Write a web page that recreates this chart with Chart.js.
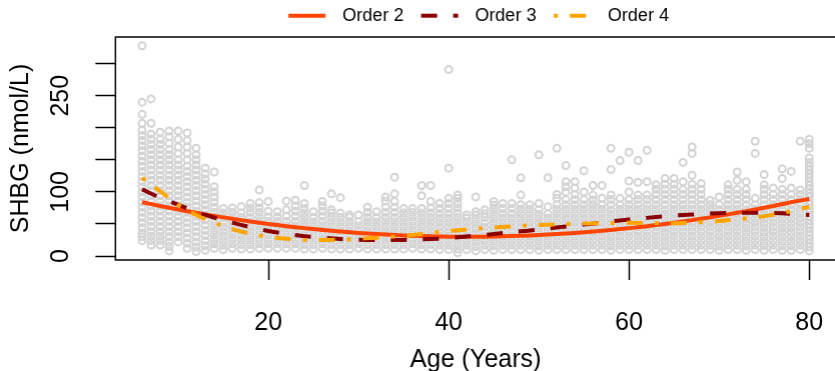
<!DOCTYPE html>
<html>
<head>
<meta charset="utf-8">
<script src="https://cdn.jsdelivr.net/npm/chart.js@4.4.0/dist/chart.umd.min.js"></script>
<style>
  html, body { margin: 0; padding: 0; overflow: hidden; background: #fff; }
  #wrap { width: 850.7px; height: 371px; }
</style>
</head>
<body>
<div id="wrap"><canvas id="shbgChart"></canvas></div>
<script>
// one column of SHBG readings per year of age
var ages = [6, 7, 8, 9, 10, 11, 12, 13, 14, 15, 16, 17, 18, 19, 20, 21, 22, 23, 24, 25,
    26, 27, 28, 29, 30, 31, 32, 33, 34, 35, 36, 37, 38, 39, 40, 41, 42, 43, 44, 45,
    46, 47, 48, 49, 50, 51, 52, 53, 54, 55, 56, 57, 58, 59, 60, 61, 62, 63, 64, 65,
    66, 67, 68, 69, 70, 71, 72, 73, 74, 75, 76, 77, 78, 79, 80];

var shbgByAge = [
    [24, 30, 36, 44, 52, 60, 68, 76, 84, 92, 100, 108, 116, 124, 132, 140, 148, 156, 164, 172, 180, 188, 196, 207, 221, 240, 328],
    [17, 24, 31, 38, 46, 54, 62, 70, 78, 86, 94, 102, 110, 118, 126, 134, 142, 150, 158, 166, 174, 182, 190, 207, 245],
    [17, 24, 31, 38, 46, 54, 62, 70, 78, 86, 94, 102, 110, 118, 126, 134, 142, 150, 158, 166, 174, 182, 193],
    [8, 15, 22, 30, 38, 46, 54, 62, 70, 78, 86, 94, 102, 110, 118, 126, 134, 142, 150, 158, 166, 176, 186, 195],
    [22, 30, 38, 46, 54, 62, 70, 78, 86, 94, 102, 110, 118, 126, 134, 142, 150, 160, 170, 182, 195],
    [12, 20, 28, 36, 44, 52, 60, 68, 76, 84, 92, 100, 108, 116, 124, 132, 140, 150, 160, 170, 180, 192],
    [7, 14, 22, 30, 38, 46, 54, 62, 70, 78, 86, 94, 102, 110, 118, 126, 134, 142, 150, 158, 168],
    [9, 16, 24, 32, 40, 48, 56, 64, 72, 80, 88, 96, 104, 112, 120, 128, 137],
    [12, 19, 26, 33, 40, 47, 54, 61, 68, 76, 84, 92, 100, 108, 131],
    [10, 17, 24, 31, 38, 45, 52, 60, 67, 74],
    [12, 19, 26, 33, 40, 47, 54, 61, 68, 75],
    [11, 18, 25, 32, 39, 46, 53, 60, 67, 77],
    [11, 18, 25, 32, 39, 46, 53, 60, 68, 75, 82],
    [12, 19, 26, 33, 40, 47, 54, 61, 68, 75, 83, 103],
    [12, 19, 26, 33, 40, 47, 54, 61, 70, 85],
    [12, 19, 26, 33, 40, 47, 54, 61, 69],
    [12, 19, 26, 33, 40, 47, 54, 62, 72, 86],
    [12, 19, 26, 33, 40, 47, 54, 62, 70, 78, 87],
    [11, 18, 25, 32, 39, 46, 53, 60, 67, 74, 82, 110],
    [11, 18, 25, 32, 39, 46, 53, 60, 69],
    [12, 19, 26, 33, 40, 47, 54, 62, 70, 78, 85],
    [11, 18, 25, 32, 39, 46, 53, 60, 67, 72, 97],
    [11, 18, 25, 32, 39, 46, 53, 60, 67, 91],
    [11, 18, 25, 32, 39, 46, 53, 60, 64],
    [12, 19, 26, 33, 40, 47, 54, 64],
    [11, 18, 25, 32, 39, 46, 53, 60, 68, 76],
    [11, 18, 25, 32, 39, 46, 53, 60, 69],
    [11, 18, 25, 32, 39, 46, 53, 60, 68, 76, 86, 92],
    [11, 18, 25, 32, 39, 46, 53, 60, 68, 76, 85, 97, 123],
    [11, 18, 25, 32, 39, 46, 53, 60, 67, 74],
    [12, 19, 26, 33, 40, 47, 54, 61, 68, 74],
    [11, 18, 25, 32, 39, 46, 53, 60, 67, 74, 94, 110],
    [11, 18, 25, 32, 39, 46, 53, 60, 67, 75, 85, 110],
    [10, 17, 24, 31, 38, 45, 52, 59, 66, 74, 82],
    [10, 17, 24, 31, 38, 45, 52, 59, 66, 74, 82, 90, 137, 291],
    [5, 11, 18, 25, 32, 39, 46, 53, 60, 67, 75, 82, 90, 95],
    [10, 17, 24, 31, 38, 45, 52, 59, 64],
    [8, 15, 22, 29, 36, 43, 50, 57, 64, 69, 92],
    [10, 17, 24, 31, 38, 45, 52, 60, 66, 72],
    [9, 16, 23, 30, 37, 44, 51, 58, 65, 72, 79, 85],
    [10, 17, 24, 31, 38, 45, 52, 59, 66, 74, 82],
    [10, 17, 24, 31, 38, 45, 52, 59, 66, 74, 82, 150],
    [10, 17, 24, 31, 38, 45, 52, 59, 66, 73, 80, 95, 122],
    [10, 17, 24, 31, 38, 45, 52, 59, 66, 73, 80],
    [9, 16, 23, 30, 37, 44, 51, 58, 65, 72, 82, 158],
    [10, 17, 24, 31, 38, 45, 52, 59, 66, 77, 122],
    [10, 17, 24, 31, 38, 45, 52, 59, 66, 73, 80, 90, 96, 168],
    [10, 17, 24, 31, 38, 45, 52, 59, 66, 73, 80, 88, 100, 108, 116, 141],
    [10, 17, 24, 31, 38, 45, 52, 59, 66, 73, 80, 88, 96, 106, 116],
    [10, 17, 24, 31, 38, 45, 52, 59, 66, 73, 80, 88, 100, 133],
    [10, 17, 24, 31, 38, 45, 52, 59, 66, 73, 80, 87, 95, 110],
    [10, 17, 24, 31, 38, 45, 52, 59, 66, 73, 80, 90, 110],
    [9, 16, 23, 30, 37, 44, 51, 58, 65, 72, 80, 88, 95, 135, 168],
    [10, 17, 24, 31, 38, 45, 52, 59, 66, 73, 80, 90, 149],
    [10, 17, 24, 31, 38, 45, 52, 59, 66, 73, 80, 88, 100, 117, 162],
    [10, 17, 24, 31, 38, 45, 52, 59, 66, 73, 80, 88, 95, 115, 149],
    [10, 17, 24, 31, 38, 45, 52, 59, 66, 73, 80, 88, 95, 116, 165],
    [10, 17, 24, 31, 38, 45, 52, 59, 66, 73, 80, 88, 96, 104, 111],
    [9, 16, 23, 30, 37, 44, 51, 58, 65, 72, 80, 88, 96, 104, 112, 121],
    [10, 17, 24, 31, 38, 45, 52, 59, 66, 73, 80, 88, 96, 104, 112, 121],
    [10, 17, 24, 31, 38, 45, 52, 59, 66, 73, 80, 88, 96, 104, 116, 146],
    [10, 17, 24, 31, 38, 45, 52, 59, 66, 73, 80, 88, 96, 104, 112, 126, 160, 170],
    [10, 17, 24, 31, 38, 45, 52, 59, 66, 73, 80, 88, 96, 104, 113],
    [10, 17, 24, 31, 38, 45, 52, 59, 66, 73, 80, 87],
    [9, 16, 23, 30, 37, 44, 51, 58, 65, 72, 80, 92],
    [10, 17, 24, 31, 38, 45, 52, 59, 66, 73, 80, 88, 96, 104, 111],
    [10, 17, 24, 31, 38, 45, 52, 59, 66, 73, 80, 88, 96, 104, 118, 131],
    [9, 16, 23, 30, 37, 44, 51, 58, 65, 72, 80, 88, 96, 104, 116],
    [10, 17, 24, 31, 38, 45, 52, 59, 66, 73, 80, 90, 160, 179],
    [9, 16, 23, 30, 37, 44, 51, 58, 65, 72, 80, 88, 96, 104, 111, 127],
    [10, 17, 24, 31, 38, 45, 52, 59, 66, 73, 80, 88, 96, 106],
    [9, 16, 23, 30, 37, 44, 51, 58, 65, 72, 80, 88, 96, 104, 121, 136],
    [9, 16, 23, 30, 37, 44, 51, 58, 65, 72, 80, 88, 96, 106, 132],
    [10, 17, 24, 31, 38, 45, 52, 59, 66, 73, 80, 88, 96, 103, 179],
    [8, 14, 20, 26, 32, 38, 44, 50, 56, 62, 68, 74, 80, 86, 92, 98, 104, 110, 116, 122, 128, 134, 140, 146, 153, 168, 175, 182]
];

// polynomial fit curves, read every 2 years
var fitAges = [6, 8, 10, 12, 14, 16, 18, 20, 22, 24, 26, 28, 30, 32, 34, 36, 38, 40, 42,
    44, 46, 48, 50, 52, 54, 56, 58, 60, 62, 64, 66, 68, 70, 72, 74, 76, 78, 80];
var order2 = [83.9, 78.1, 72.6, 67.4, 62.6, 58.1, 54.0, 50.1, 46.6, 43.5, 40.6, 38.2, 36.0, 34.2,
    32.7, 31.5, 30.7, 30.2, 30.0, 30.2, 30.7, 31.5, 32.7, 34.2, 36.0, 38.2, 40.6, 43.5, 46.6,
    50.1, 54.0, 58.1, 62.6, 67.4, 72.6, 78.1, 83.9, 89.0];
var order3 = [104, 91, 80, 69, 60, 52, 45, 39, 34.5, 31, 28.5, 26.5, 25.5, 25, 25, 25.5, 26.5,
    28, 30.5, 33, 36, 38.5, 41.5, 44.5, 47.5, 50.5, 54, 57, 59.5, 62, 64, 65.5, 66.8, 67.5,
    67.6, 67, 65.8, 64];
var order4 = [122, 101, 80, 64, 52, 42, 35, 30, 27, 25, 25, 25.5, 27, 28.5, 30.5, 33, 36, 39,
    41.5, 43.5, 45.2, 47, 48.2, 49.4, 50.3, 50.8, 51.3, 51.8, 51.5, 51, 51.6, 53, 54.5, 57.5,
    60, 64.5, 70, 77];

var xTicks = [20, 40, 60, 80];
var yTicks = [0, 50, 100, 150, 200, 250, 300];
var yLabels = ['0', '', '100', '', '', '250', ''];

var fontFamily = '"Liberation Sans", Arial, Helvetica, sans-serif';

var points = [];
ages.forEach(function(a, i) {
    shbgByAge[i].forEach(function(v) {
        points.push({ x: a, y: v });
    });
});

function curve(values) {
    return fitAges.map(function(a, i) { return { x: a, y: values[i] }; });
}

function lineSet(label, values, color, dash, order) {
    return {
        label: label,
        data: curve(values),
        showLine: true,
        borderColor: color,
        backgroundColor: color,
        borderWidth: 4,
        borderDash: dash,
        borderCapStyle: 'butt',
        pointRadius: 0,
        pointHoverRadius: 0,
        tension: 0.4,
        fill: false,
        order: order
    };
}

// plot frame like R's box()
var boxPlugin = {
    id: 'box',
    afterDatasetsDraw: function(chart) {
        var a = chart.chartArea, ctx = chart.ctx;
        ctx.save();
        ctx.strokeStyle = '#000';
        ctx.lineWidth = 1.5;
        ctx.strokeRect(a.left, a.top, a.right - a.left, a.bottom - a.top);
        ctx.restore();
    }
};

// horizontal legend above the plot, no frame
var topLegend = {
    id: 'topLegend',
    afterDraw: function(chart) {
        var ctx = chart.ctx, a = chart.chartArea;
        var x = (a.left + a.right) / 2 - 187;
        var y = 15.7;
        ctx.save();
        chart.data.datasets.forEach(function(ds) {
            if (!ds.showLine) return;
            ctx.beginPath();
            ctx.setLineDash(ds.borderDash);
            ctx.lineCap = 'butt';
            ctx.strokeStyle = ds.borderColor;
            ctx.lineWidth = ds.borderWidth;
            ctx.moveTo(x, y);
            ctx.lineTo(x + 37, y);
            ctx.stroke();
            ctx.setLineDash([]);
            ctx.fillStyle = '#000';
            ctx.font = '18px ' + fontFamily;
            ctx.textBaseline = 'middle';
            ctx.textAlign = 'left';
            ctx.fillText(ds.label, x + 54, y + 0.5);
            x += 132.5;
        });
        ctx.restore();
    }
};

var ctx = document.getElementById('shbgChart').getContext('2d');
var shbgChart = new Chart(ctx, {
    type: 'scatter',
    data: {
        datasets: [
            {
                label: 'SHBG',
                data: points,
                showLine: false,
                pointRadius: 3.5,
                pointHoverRadius: 3.5,
                pointBorderWidth: 2,
                pointBorderColor: '#D3D3D3',
                pointBackgroundColor: 'rgba(0,0,0,0)',
                order: 10
            },
            lineSet('Order 2', order2, '#FF4500', [], 3),
            lineSet('Order 3', order3, '#8B0000', [16, 16], 2),
            lineSet('Order 4', order4, '#FFA500', [4, 12, 16, 12], 1)
        ]
    },
    options: {
        responsive: true,
        maintainAspectRatio: false,
        animation: false,
        layout: { padding: { top: 37, right: 14, left: 0, bottom: 0 } },
        plugins: {
            legend: { display: false },
            tooltip: { enabled: false }
        },
        scales: {
            x: {
                type: 'linear',
                min: 3.04,
                max: 82.96,
                afterBuildTicks: function(scale) {
                    scale.ticks = xTicks.map(function(v) { return { value: v }; });
                },
                afterFit: function(scale) { scale.height = 111; },
                grid: { drawOnChartArea: false, drawTicks: true, tickLength: 20, tickColor: '#000', tickWidth: 1.5 },
                border: { display: false },
                ticks: {
                    autoSkip: false,
                    maxRotation: 0,
                    padding: 28,
                    color: '#000',
                    font: { family: fontFamily, size: 25 }
                },
                title: {
                    display: true,
                    text: 'Age (Years)',
                    color: '#000',
                    font: { family: fontFamily, size: 25, lineHeight: 1 },
                    padding: { top: 0, bottom: -1.5 }
                }
            },
            y: {
                type: 'linear',
                min: -6.2,
                max: 341.6,
                afterBuildTicks: function(scale) {
                    scale.ticks = yTicks.map(function(v) { return { value: v }; });
                },
                afterFit: function(scale) { scale.width = 115.3; },
                grid: { drawOnChartArea: false, drawTicks: true, tickLength: 20, tickColor: '#000', tickWidth: 1.5 },
                border: { display: false },
                ticks: {
                    autoSkip: false,
                    minRotation: 90,
                    maxRotation: 90,
                    crossAlign: 'center',
                    padding: 13.5,
                    color: '#000',
                    font: { family: fontFamily, size: 25 },
                    callback: function(value) {
                        return yLabels[yTicks.indexOf(value)];
                    }
                },
                title: {
                    display: true,
                    text: 'SHBG (nmol/L)',
                    color: '#000',
                    font: { family: fontFamily, size: 25, lineHeight: 1 },
                    padding: { top: 8.5, bottom: 0 }
                }
            }
        }
    },
    plugins: [boxPlugin, topLegend]
});
</script>
</body>
</html>
